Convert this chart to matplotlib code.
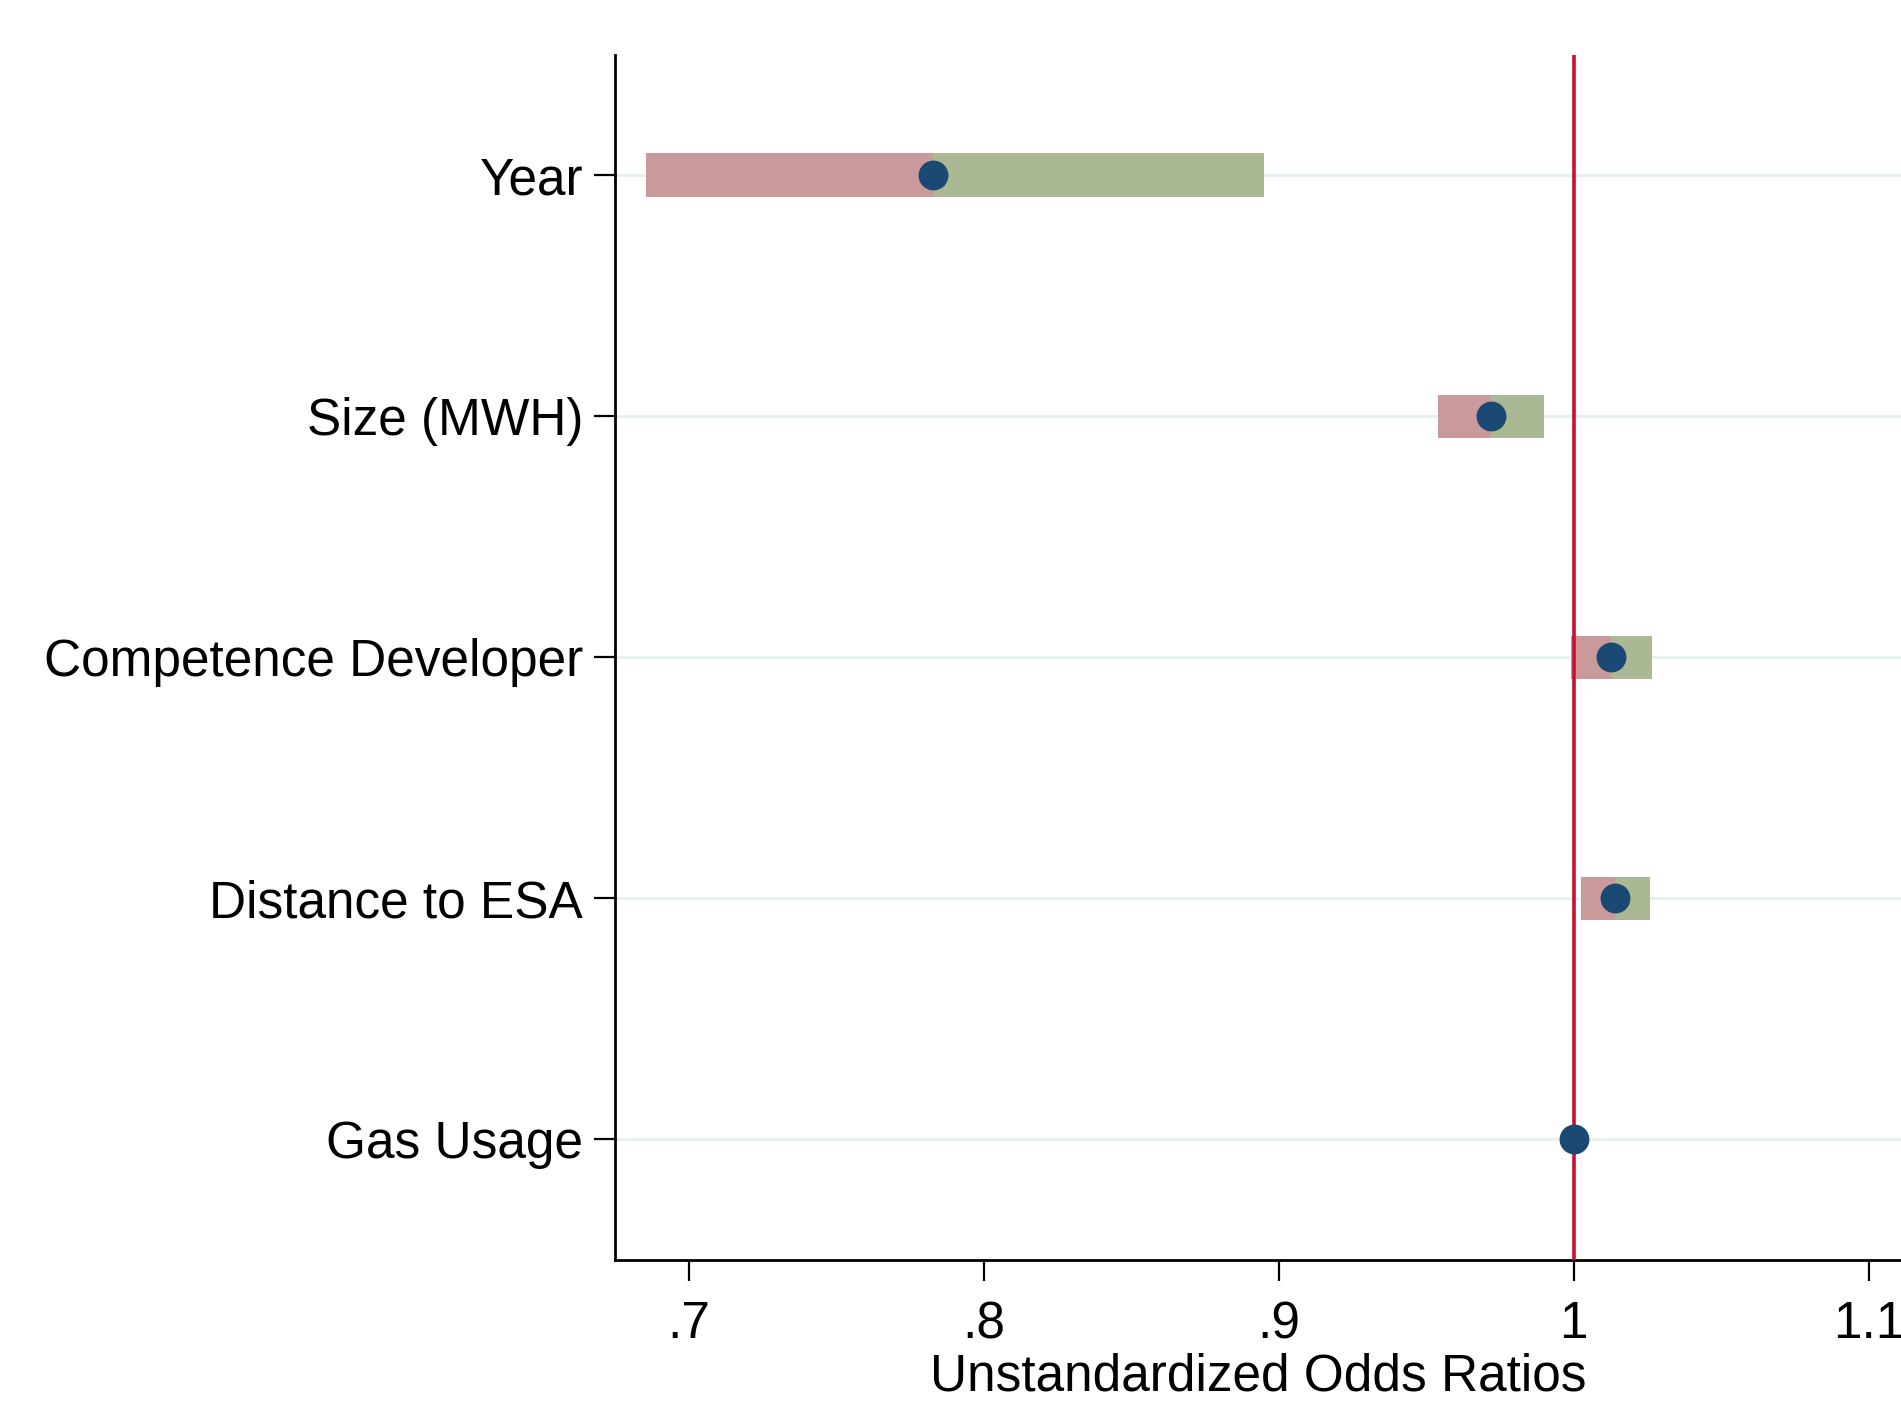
import matplotlib
matplotlib.use("Agg")
import matplotlib.pyplot as plt

# Data
categories = ["Year", "Size (MWH)", "Competence Developer", "Distance to ESA", "Gas Usage"]
estimates = [0.7829, 0.9719, 1.0126, 1.0140, 1.0000]
ci_low = [0.6854, 0.9541, 0.9990, 1.0024, 0.9998]
ci_high = [0.8951, 0.9899, 1.0267, 1.0259, 1.0002]
xticks = [0.7, 0.8, 0.9, 1.0, 1.1]
xtick_labels = [".7", ".8", ".9", "1", "1.1"]
xlabel = "Unstandardized Odds Ratios"

plt.rcParams['font.family'] = ['Liberation Sans', 'DejaVu Sans']

fig = plt.figure(figsize=(19.01, 14.03), dpi=100)
ax = fig.add_axes([0.3235, 0.1019, 0.6765, 0.8592])

ypos = list(range(1, len(categories) + 1))

for y in ypos:
    ax.axhline(y, color="#e8f0f2", lw=2.2, zorder=0)

bar_h = 0.18
ax.barh(ypos, [e - l for e, l in zip(estimates, ci_low)], left=ci_low,
        height=bar_h, color="#c9999b", zorder=2, linewidth=0)
ax.barh(ypos, [h - e for e, h in zip(estimates, ci_high)], left=estimates,
        height=bar_h, color="#aab994", zorder=2, linewidth=0)

ax.axvline(1.0, color="#c8102e", lw=2.6, zorder=3)

ax.plot(estimates, ypos, 'o', color="#1a4a73", markersize=21.5, zorder=4,
        markeredgewidth=0)

ax.set_xlim(0.675, 1.111)
ax.set_ylim(5.5, 0.5)
ax.set_yticks(ypos)
ax.set_yticklabels(categories, fontsize=37)
ax.set_xticks(xticks)
ax.set_xticklabels(xtick_labels, fontsize=37)
ax.set_xlabel(xlabel, fontsize=37, labelpad=2)

ax.tick_params(axis='y', length=15, width=1.6, pad=8, color='black')
ax.tick_params(axis='x', length=15, width=1.6, pad=14, color='black')

for s in ['top', 'right']:
    ax.spines[s].set_visible(False)
for s in ['left', 'bottom']:
    ax.spines[s].set_linewidth(2)
    ax.spines[s].set_color('black')

fig.savefig("out.png", dpi=100)
